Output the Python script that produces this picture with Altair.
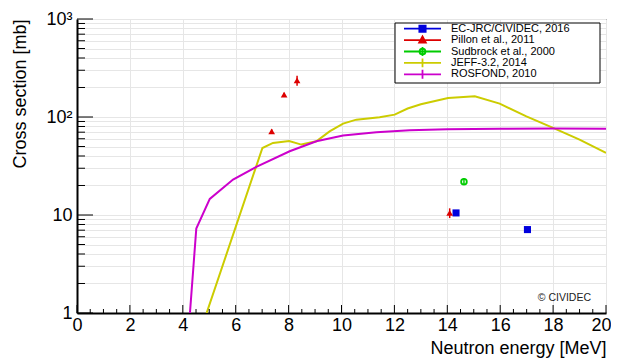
import altair as alt
import pandas as pd

# ---------------- data ----------------
series = ["EC-JRC/CIVIDEC, 2016", "Pillon et al., 2011", "Sudbrock et al., 2000",
          "JEFF-3.2, 2014", "ROSFOND, 2010"]
colors = ["#0000dd", "#dd0000", "#00cc00", "#cccc00", "#cc00cc"]
fills = ["#0000dd", "#dd0000", "#ffffff", "#cccc00", "#cc00cc"]

ec_x = [14.33, 17.03]
ec_y = [10.5, 7.1]
ec_err = [0.45, 0.35]

pillon_x = [7.36, 7.83, 8.32, 14.09]
pillon_y = [71.4, 169.0, 236.0, 10.5]
pillon_err = [3.5, 8.0, 28.0, 1.2]

sud_x = [14.63]
sud_y = [21.9]
sud_err = [1.8]

jeff_x = [4.90, 7.01, 7.41, 8.02, 8.48, 9.05, 9.55, 10.06, 10.56, 11.44, 12.01,
          12.5, 13.0, 14.03, 15.04, 15.98, 16.99, 18.0, 19.0, 20.0]
jeff_y = [1.0, 48.3, 54.4, 57.0, 52.3, 56.5, 71.4, 85.6, 94.0, 99.3, 105.7,
          122.0, 135.0, 156.0, 162.5, 137.0, 101.6, 77.3, 58.8, 43.0]

ros_x = [4.27, 4.51, 5.02, 5.90, 6.78, 8.04, 9.05, 10.06, 11.32, 12.58, 14.0,
         16.0, 18.0, 20.0]
ros_y = [1.0, 7.27, 14.6, 23.0, 31.0, 44.7, 56.5, 64.6, 69.8, 73.1, 75.0,
         76.0, 76.5, 76.0]

x_major = [0, 2, 4, 6, 8, 10, 12, 14, 16, 18, 20]
x_minor = [v / 2 for v in range(0, 41) if v % 4 != 0]
y_major = [1, 10, 100, 1000]
y_minor = [m * d for d in (1, 10, 100) for m in range(2, 10)]

credit = "© CIVIDEC"
x_title = "Neutron energy [MeV]"
y_title = "Cross section [mb]"

# legend symbol paths (line + marker), in domain order
legend_paths = [
    "M-1,0H1M-0.17,-0.17H0.17V0.17H-0.17Z",
    "M-1,0H1M0,-0.2L0.18,0.13H-0.18Z",
    "M-1,0H1M0.16,0A0.16,0.16,0,1,1,-0.16,0A0.16,0.16,0,1,1,0.16,0M0,-0.24V0.24",
    "M-1,0H1M0,-0.24V0.24",
    "M-1,0H1M0,-0.24V0.24",
]

FONT = "Liberation Sans"
W, H = 529, 294

xs = alt.Scale(domain=[0, 20], nice=False, zero=False)
ys = alt.Scale(type="log", domain=[1, 1000], nice=False)

label_expr = ("datum.value == 1 ? '1' : datum.value == 10 ? '10' : "
              "datum.value == 100 ? '10²' : datum.value == 1000 ? '10³' : ''")

x_axis = alt.Axis(values=x_major, grid=True, gridColor="#e6e6e6", ticks=False,
                  domainColor="black", domainWidth=2, labelFont=FONT, labelFontSize=18,
                  labelColor="black", labelPadding=3, labelFlush=True, labelFlushOffset=5,
                  title=x_title, titleFont=FONT, titleFontSize=18, titleFontWeight="normal",
                  titleColor="black", titleAnchor="end", titleAlign="right",
                  titleBaseline="alphabetic", titleY=40, titleX=W)
y_axis = alt.Axis(values=sorted(y_major + y_minor), grid=True, gridColor="#e6e6e6",
                  ticks=False, domainColor="black", domainWidth=2, labelFont=FONT,
                  labelFontSize=18, labelColor="black", labelPadding=5,
                  labelExpr=label_expr, labelBaseline="middle", labelFlush=False,
                  title=y_title, titleFont=FONT, titleFontSize=18,
                  titleFontWeight="normal", titleColor="black", titleAngle=-90,
                  titleAnchor="end", titleAlign="right", titleBaseline="middle",
                  titleX=-57, titleY=0)


def X(field):
    return alt.X(field, scale=xs, axis=x_axis)


def Y(field):
    return alt.Y(field, scale=ys, axis=y_axis)


def curve(xv, yv, color):
    df = pd.DataFrame({"x": xv, "y": yv})
    return alt.Chart(df).mark_line(color=color, strokeWidth=2, clip=True).encode(
        x=X("x:Q"), y=Y("y:Q"))


def points(xv, yv, ev, color, shape, filled, size):
    df = pd.DataFrame({"x": xv, "y": yv, "lo": [a - b for a, b in zip(yv, ev)],
                       "hi": [a + b for a, b in zip(yv, ev)]})
    bars = alt.Chart(df).mark_rule(color=color, strokeWidth=1.5).encode(
        x=X("x:Q"), y=Y("lo:Q"), y2="hi:Q")
    pts = alt.Chart(df).mark_point(shape=shape, filled=filled, size=size, color=color,
                                   strokeWidth=1.8, opacity=1).encode(
        x=X("x:Q"), y=Y("y:Q"))
    return bars + pts


jeff = curve(jeff_x, jeff_y, colors[3])
ros = curve(ros_x, ros_y, colors[4])

ec = points(ec_x, ec_y, ec_err, colors[0], "square", True, 50)
pil = points(pillon_x, pillon_y, pillon_err, colors[1], "triangle-up", True, 45)
sud = points(sud_x, sud_y, sud_err, colors[2], "circle", False, 32)

# inner tick marks
xt_major = alt.Chart(pd.DataFrame({"v": x_major})).mark_rule(color="black", strokeWidth=1).encode(
    x=X("v:Q"), y=alt.value(H), y2=alt.value(H - 8))
xt_minor = alt.Chart(pd.DataFrame({"v": x_minor})).mark_rule(color="black", strokeWidth=1).encode(
    x=X("v:Q"), y=alt.value(H), y2=alt.value(H - 4))
yt_major = alt.Chart(pd.DataFrame({"v": y_major})).mark_rule(color="black", strokeWidth=1).encode(
    y=Y("v:Q"), x=alt.value(0), x2=alt.value(16))
yt_minor = alt.Chart(pd.DataFrame({"v": y_minor})).mark_rule(color="black", strokeWidth=1).encode(
    y=Y("v:Q"), x=alt.value(0), x2=alt.value(8))

# legend box
box = alt.Chart(pd.DataFrame({"a": [0]})).mark_rect(fill="white", stroke="black",
                                                    strokeWidth=1).encode(
    x=alt.value(318), x2=alt.value(523), y=alt.value(4), y2=alt.value(64))

cred = alt.Chart(pd.DataFrame({"t": [credit]})).mark_text(
    align="right", baseline="alphabetic", font=FONT, fontSize=10.5, color="#222").encode(
    x=alt.value(514), y=alt.value(282), text="t:N")

leg = alt.Legend(title=None, orient="none", legendX=326, legendY=4.2,
                 symbolSize=1369, clipHeight=11.0, rowPadding=-0.6,
                 labelOffset=9, labelFont=FONT, labelFontSize=11,
                 labelColor="black", padding=0, symbolStrokeWidth=1.8,
                 symbolOpacity=1)

dummy = alt.Chart(pd.DataFrame({"series": series})).mark_point(filled=False).encode(
    color=alt.Color("series:N", scale=alt.Scale(domain=series, range=colors), legend=leg),
    fill=alt.Fill("series:N", scale=alt.Scale(domain=series, range=fills), legend=leg),
    shape=alt.Shape("series:N", scale=alt.Scale(domain=series, range=legend_paths),
                    legend=leg),
).transform_filter("datum.series == 'none'")

chart = alt.layer(jeff, ros, ec, pil, sud, xt_major, xt_minor, yt_major, yt_minor,
                  box, cred, dummy).properties(
    width=W, height=H, background="white",
    padding={"left": 69, "top": 11, "right": 5, "bottom": 45},
    autosize=alt.AutoSizeParams(type="none"),
).configure_view(stroke="black", strokeWidth=1)

chart.save("out.html", embed_options={"renderer": "svg", "actions": False})
